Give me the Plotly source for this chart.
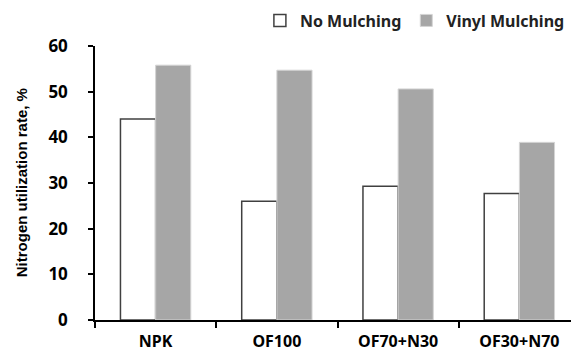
import plotly.graph_objects as go

categories = ["NPK", "OF100", "OF70+N30", "OF30+N70"]
no_mulching = [44.0, 26.0, 29.3, 27.7]
vinyl_mulching = [55.8, 54.7, 50.6, 38.9]
y_ticks = [0, 10, 20, 30, 40, 50, 60]

fig = go.Figure()
fig.add_trace(go.Bar(
    x=categories, y=no_mulching, name="No Mulching",
    marker=dict(color="white", line=dict(color="#404040", width=1.5)),
))
fig.add_trace(go.Bar(
    x=categories, y=vinyl_mulching, name="Vinyl Mulching",
    marker=dict(color="#a6a6a6", line=dict(color="#d4d4d4", width=1)),
))

x_tick_font = dict(family="Noto Sans, Open Sans, sans-serif", size=16, color="black", weight="bold")
y_tick_font = dict(family="Noto Sans, Open Sans, sans-serif", size=17, color="black", weight="bold")
legend_font = dict(family="Noto Sans, Open Sans, sans-serif", size=16, color="#222222", weight="bold")

fig.update_layout(
    width=579, height=351,
    margin=dict(l=87, r=7, t=38, b=39, autoexpand=False),
    paper_bgcolor="white", plot_bgcolor="white",
    barmode="group", bargap=0.42, bargroupgap=0,
    showlegend=True,
    legend=dict(
        orientation="h", x=0.34, xanchor="left", y=1.155, yanchor="top",
        yref="paper", font=legend_font, bgcolor="rgba(0,0,0,0)",
        itemwidth=30, traceorder="normal", tracegroupgap=0,
    ),
    xaxis=dict(
        type="category", range=[-0.5, 3.5],
        showline=True, linecolor="black", linewidth=1.5,
        ticks="outside", tickson="boundaries", ticklen=6, tickwidth=1.5, tickcolor="black",
        tickfont=x_tick_font, showgrid=False, zeroline=False,
        ticklabelstandoff=6,
    ),
    yaxis=dict(
        range=[0, 60], tickvals=y_ticks,
        showline=True, linecolor="black", linewidth=1.5,
        ticks="outside", ticklen=5, tickwidth=1.5, tickcolor="black",
        tickfont=y_tick_font, showgrid=False, zeroline=False,
        ticklabelstandoff=17,
    ),
)

fig.add_annotation(
    text="Nitrogen utilization rate, %", textangle=-90,
    xref="paper", yref="paper", x=-0.151, y=0.502,
    xanchor="center", yanchor="middle", showarrow=False,
    font=dict(family="Liberation Sans, Arial, sans-serif", size=15, color="black", weight="bold"),
)

fig.write_html("out.html")
